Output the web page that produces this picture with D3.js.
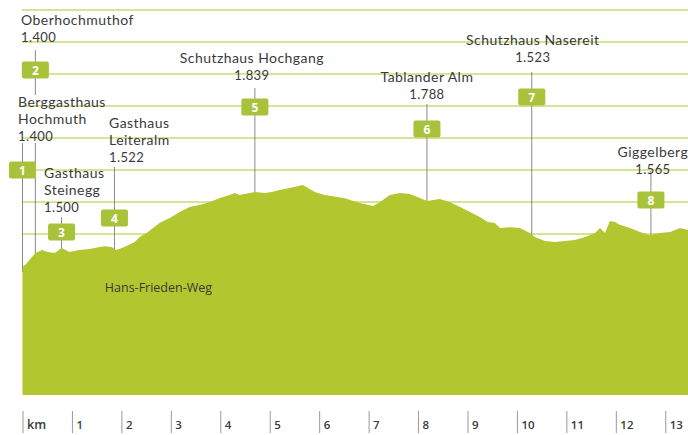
<!DOCTYPE html>
<html><head><meta charset="utf-8">
<script src="https://cdn.jsdelivr.net/npm/d3@7"></script>
<style>
html,body{margin:0;padding:0;background:#fff;}
svg{display:block;font-family:"Open Sans",sans-serif;}
.lbl{font-family:Lato,"Open Sans",sans-serif;}
</style></head>
<body>
<script>
// profile: distance (km) and elevation (m)
const profileKm = [0.0,0.26,0.40,0.51,0.65,0.79,0.95,1.15,1.36,1.56,1.66,1.80,1.90,2.06,2.27,2.37,2.51,2.77,2.98,3.18,3.38,3.58,3.79,3.99,4.19,4.29,4.39,4.70,4.90,5.04,5.20,5.40,5.67,5.91,6.11,6.50,6.82,7.09,7.23,7.43,7.63,7.83,8.04,8.18,8.44,8.64,8.85,9.05,9.25,9.41,9.55,9.66,9.86,10.06,10.26,10.36,10.57,10.77,10.97,11.17,11.38,11.58,11.68,11.78,11.88,11.98,12.09,12.29,12.49,12.69,12.89,13.10,13.30,13.46];
const profileElev = [1389,1473,1490,1479,1473,1501,1479,1490,1496,1507,1512,1507,1490,1507,1535,1563,1586,1642,1670,1704,1732,1743,1760,1783,1799,1811,1799,1816,1811,1816,1828,1839,1856,1816,1799,1783,1754,1738,1760,1799,1811,1805,1783,1766,1777,1760,1732,1704,1676,1648,1642,1614,1619,1614,1586,1563,1541,1535,1541,1546,1563,1586,1614,1586,1653,1648,1631,1614,1591,1574,1586,1591,1614,1603];

// stops along the route
const stopNumbers = [1,2,3,4,5,6,7,8];
const stopKm = [0.0,0.26,0.79,1.86,4.70,8.18,10.30,12.71];
const stopNames = [["Berggasthaus","Hochmuth"],["Oberhochmuthof"],["Gasthaus","Steinegg"],["Gasthaus","Leiteralm"],["Schutzhaus Hochgang"],["Tablander Alm"],["Schutzhaus Nasereit"],["Giggelberg"]];
const stopElevLabels = ["1.400","1.400","1.500","1.522","1.839","1.788","1.523","1.565"];

const kmTicks = [0,1,2,3,4,5,6,7,8,9,10,11,12,13];
const kmTickLabels = ["km","1","2","3","4","5","6","7","8","9","10","11","12","13"];
const gridElev = [1400,1580,1760,1940,2120,2300,2480,2660,2840];
const routeLabel = "Hans-Frieden-Weg";
const routeLabelKm = 2.75;

const W = 688, H = 435;
const svg = d3.select("body").append("svg").attr("width", W).attr("height", H);

const x = d3.scaleLinear().domain([0, 13.46]).range([22.5, 688]);
const y = d3.scaleLinear().domain([675, 2840]).range([395, 10]);

const GREEN = "#b2c62f", BOX = "#a9c23b", GRID = "#cbdb72", TXT = "#3a3a3a", VLINE = "#8a8a8a";

// gridlines
svg.append("g").selectAll("line").data(gridElev).join("line")
  .attr("x1", x(0)-0.5).attr("x2", W)
  .attr("y1", d => y(d)).attr("y2", d => y(d))
  .attr("stroke", GRID).attr("stroke-width", 1.6);

// layout of annotations (pixel layout, not data)
const layout = [
  {box: 170, lineTop: 143, lineBreak: null, tx: 18, anchor: "start", ty: 102},
  {box: 70,  lineTop: 50,  lineBreak: [95,143], tx: 21, anchor: "start", ty: 20},
  {box: 232, lineTop: 217, lineBreak: null, tx: 44, anchor: "start", ty: 173},
  {box: 218, lineTop: 167, lineBreak: null, tx: 109, anchor: "start", ty: 123},
  {box: 107, lineTop: 88,  lineBreak: null, tx: null, anchor: "middle", ty: 58, dx: -3},
  {box: 129, lineTop: 104, lineBreak: null, tx: null, anchor: "middle", ty: 77, dx: 0},
  {box: 97,  lineTop: 72,  lineBreak: null, tx: null, anchor: "middle", ty: 40, dx: 1},
  {box: 200, lineTop: 171, lineBreak: null, tx: null, anchor: "middle", ty: 152, dx: 2}
];
const LINE_H = 17;

const interp = km => {
  const i = d3.bisectLeft(profileKm, km);
  if (i <= 0) return profileElev[0];
  if (i >= profileKm.length) return profileElev[profileElev.length-1];
  const t = (km - profileKm[i-1])/(profileKm[i]-profileKm[i-1]);
  return profileElev[i-1] + t*(profileElev[i]-profileElev[i-1]);
};

// vertical lines
const vl = svg.append("g");
stopKm.forEach((k, i) => {
  const L = layout[i];
  const xx = x(k);
  const bottom = y(interp(k)) + 4;
  if (L.lineBreak) {
    vl.append("line").attr("x1", xx).attr("x2", xx).attr("y1", L.lineTop).attr("y2", L.lineBreak[0]).attr("stroke", VLINE);
    vl.append("line").attr("x1", xx).attr("x2", xx).attr("y1", L.lineBreak[1]).attr("y2", bottom).attr("stroke", VLINE);
  } else {
    vl.append("line").attr("x1", xx).attr("x2", xx).attr("y1", L.lineTop).attr("y2", bottom).attr("stroke", VLINE);
  }
});

// area
const pts = profileKm.map((k,i) => [k, profileElev[i]]);
svg.append("path").datum(pts)
  .attr("d", d3.area().x(d => x(d[0])).y0(y(675)).y1(d => y(d[1])).curve(d3.curveLinear))
  .attr("fill", GREEN);

// route label
svg.append("text").attr("x", x(routeLabelKm)).attr("y", 292).attr("fill", TXT)
  .attr("font-size", 12.5).attr("text-anchor", "middle").text(routeLabel);

// boxes + numbers + labels
stopKm.forEach((k, i) => {
  const L = layout[i];
  const cx = x(k);
  svg.append("rect").attr("x", cx-13.5).attr("y", L.box-8.5).attr("width", 27).attr("height", 17)
    .attr("rx", 2).attr("fill", BOX);
  svg.append("text").attr("x", cx).attr("y", L.box+4.5).attr("text-anchor", "middle")
    .attr("fill", "#fff").attr("font-weight", 700).attr("font-size", 12).text(stopNumbers[i]);
  const lines = stopNames[i].concat([stopElevLabels[i]]);
  const tx = L.tx !== null ? L.tx : cx + L.dx;
  lines.forEach((s, j) => {
    const last = j === lines.length-1;
    svg.append("text").attr("class", "lbl").attr("x", tx).attr("y", L.ty + 5 + j*LINE_H)
      .attr("text-anchor", L.anchor).attr("fill", TXT)
      .attr("font-size", last ? 13 : 14)
      .attr("letter-spacing", last ? 0.4 : 0.45).text(s);
  });
});

// axis
const ax = svg.append("g");
kmTicks.forEach((k, i) => {
  const xx = x(k) + 0.5;
  ax.append("line").attr("x1", xx).attr("x2", xx).attr("y1", 411).attr("y2", 433).attr("stroke", "#999");
  ax.append("text").attr("x", xx + 4).attr("y", 429).attr("fill", TXT)
    .attr("font-size", i === 0 ? 12.5 : 11.5).attr("font-weight", 600).text(kmTickLabels[i]);
});
</script>
</body></html>
